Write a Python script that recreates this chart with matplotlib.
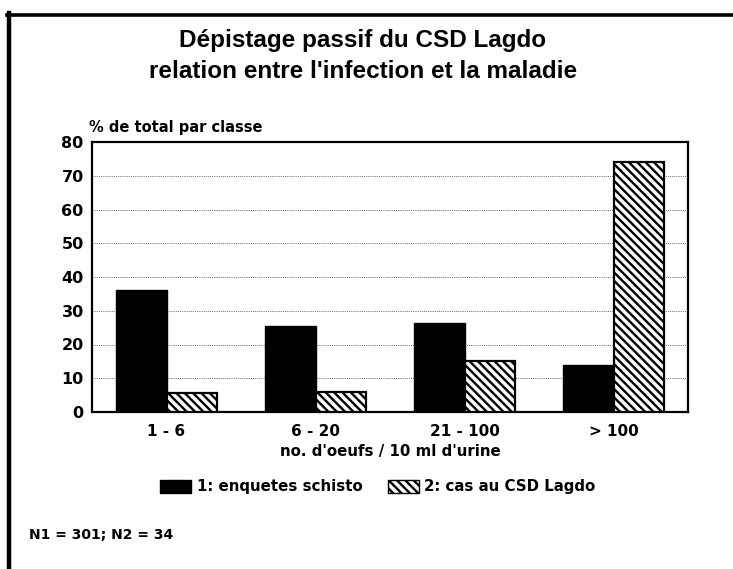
import numpy as np
import matplotlib.pyplot as plt
from matplotlib.patches import Rectangle
from matplotlib.lines import Line2D

plt.rcParams['font.family'] = ['DejaVu Sans']
plt.rcParams['font.weight'] = 'bold'
plt.rcParams['hatch.linewidth'] = 1.7

# Données
classes = ['1 - 6', '6 - 20', '21 - 100', '> 100']
enquetes = [36.1, 25.5, 26.3, 13.9]
cas_csd = [5.7, 6.0, 15.2, 74.0]
yticks = [0, 10, 20, 30, 40, 50, 60, 70, 80]

HATCH = '\\\\\\\\'
W, H = 733, 569
fig = plt.figure(figsize=(W / 100, H / 100), dpi=100)
fig.patch.set_facecolor('white')

# cadre de la page (gauche et haut)
fig.add_artist(Line2D([9 / W, 9 / W], [0, 1 - 13 / H], color='black', lw=3.2,
                      transform=fig.transFigure))
fig.add_artist(Line2D([7 / W, 1], [1 - 14.5 / H, 1 - 14.5 / H], color='black', lw=2.6,
                      transform=fig.transFigure))

ax = fig.add_axes([92 / W, 1 - 412 / H, 596 / W, 270 / H])
x = np.arange(len(classes))
bw = 0.34
ax.bar(x - bw / 2, enquetes, bw, color='black', edgecolor='black', lw=1, zorder=3)
ax.bar(x + bw / 2, cas_csd, bw, color='white', edgecolor='black', lw=1.6,
       hatch=HATCH, zorder=3)

ax.set_xlim(-0.5, 3.5)
ax.set_ylim(0, 80)
ax.set_yticks(yticks)
ax.set_xticks(x)
ax.set_xticklabels(classes, fontsize=11, fontweight='bold')
ax.tick_params(axis='y', length=0, labelsize=11.5, pad=6)
ax.tick_params(axis='x', length=0, labelsize=11, pad=9)
for lbl in ax.get_yticklabels():
    lbl.set_fontweight('bold')
for y in yticks[1:-1]:
    ax.axhline(y, color='#666666', lw=0.7, ls=(0, (1, 1.2)), zorder=1)
for s in ax.spines.values():
    s.set_linewidth(1.6)

ax.set_xlabel("no. d'oeufs / 10 ml d'urine", fontsize=10.8, fontweight='bold', labelpad=3)
fig.text(89 / W, 1 - 128 / H, '% de total par classe', fontsize=10.5,
         fontweight='bold', va='center', ha='left')

# Titre
title_font = ['Liberation Sans', 'DejaVu Sans']
fig.text(363 / W, 1 - 41 / H, 'Dépistage passif du CSD Lagdo', fontsize=17.5,
         fontweight='bold', ha='center', va='center', family=title_font)
fig.text(363 / W, 1 - 72 / H, "relation entre l'infection et la maladie", fontsize=17.5,
         fontweight='bold', ha='center', va='center', family=title_font)

# Légende
fig.add_artist(Rectangle((160 / W, 1 - 493 / H), 31 / W, 13 / H, facecolor='black',
                         edgecolor='black', transform=fig.transFigure))
fig.text(197 / W, 1 - 487 / H, '1: enquetes schisto', fontsize=10.8,
         fontweight='bold', va='center', ha='left')
fig.add_artist(Rectangle((388 / W, 1 - 493 / H), 31 / W, 13 / H, facecolor='white',
                         edgecolor='black', lw=1, hatch=HATCH, transform=fig.transFigure))
fig.text(424 / W, 1 - 487 / H, '2: cas au CSD Lagdo', fontsize=10.8,
         fontweight='bold', va='center', ha='left')

fig.text(29 / W, 1 - 535 / H, 'N1 = 301; N2 = 34', fontsize=10,
         fontweight='bold', va='center', ha='left')

fig.savefig('out.png', dpi=100)
